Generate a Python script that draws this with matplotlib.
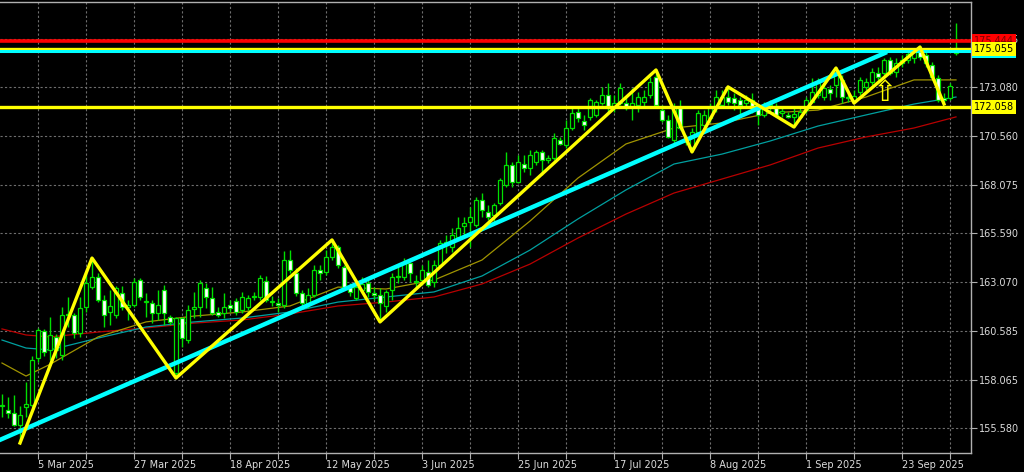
import matplotlib
matplotlib.use("Agg")
import matplotlib.pyplot as plt
import matplotlib.transforms as mtransforms
import numpy as np

# daily candles, bar 0 = 25 Feb 2025 ... bar 159 = 6 Oct 2025
opens = [156.71, 156.51, 156.35, 155.74, 156.66, 156.76, 159.18, 160.56, 159.59, 160.26,
         159.33, 161.39, 161.39, 160.46, 161.80, 162.82, 163.34, 162.16, 161.54, 161.39,
         162.51, 161.80, 161.90, 163.18, 162.05, 162.00, 161.49, 162.67, 161.28, 158.41,
         161.23, 160.10, 161.69, 161.80, 162.77, 162.26, 161.54, 161.49, 161.90, 162.10,
         161.64, 161.80, 162.31, 162.31, 163.13, 162.05, 162.00, 161.90, 164.21, 163.54,
         162.51, 161.90, 162.41, 163.70, 163.59, 164.36, 164.88, 163.85, 162.82, 162.26,
         162.67, 163.03, 162.51, 162.41, 161.85, 162.67, 163.34, 163.34, 164.06, 163.13,
         163.18, 163.59, 163.08, 163.95, 165.13, 164.88, 165.39, 165.96, 166.16, 166.01,
         167.29, 166.68, 166.52, 167.14, 168.06, 169.09, 168.22, 169.14, 168.94, 169.24,
         169.76, 169.35, 169.45, 170.37, 170.12, 170.99, 171.81, 171.35, 171.55, 171.66,
         172.27, 172.69, 172.07, 172.27, 172.27, 172.07, 172.17, 172.33, 172.69, 173.61,
         171.91, 171.40, 170.37, 172.02, 170.53, 170.01, 170.78, 171.14, 171.50, 172.07,
         172.17, 172.58, 172.53, 172.43, 172.27, 172.43, 172.02, 171.66, 172.17, 172.12,
         171.76, 171.66, 171.55, 171.55, 171.91, 172.33, 172.69, 172.58, 172.99, 173.20,
         173.46, 172.58, 172.43, 172.84, 173.10, 173.35, 173.82, 173.82, 174.48, 173.87,
         174.33, 174.48, 174.58, 175.00, 174.74, 174.23, 173.56, 172.53, 172.53, 174.84]
highs = [157.33, 157.18, 157.28, 156.71, 157.94, 159.28, 160.72, 160.67, 161.28, 160.41,
         161.80, 162.31, 161.49, 162.31, 163.54, 164.31, 163.54, 162.41, 162.67, 162.87,
         162.87, 162.16, 163.29, 163.29, 162.51, 162.16, 162.67, 162.92, 161.39, 161.28,
         161.28, 161.90, 162.57, 163.18, 163.03, 162.82, 161.80, 162.51, 162.16, 162.26,
         162.57, 162.41, 162.57, 163.44, 163.39, 162.36, 162.26, 164.67, 164.72, 163.80,
         162.67, 162.77, 163.95, 163.95, 164.72, 165.24, 164.98, 163.95, 163.03, 163.18,
         163.34, 163.18, 162.82, 162.77, 162.67, 163.54, 163.95, 164.31, 164.11, 163.44,
         163.95, 164.21, 164.21, 165.24, 165.49, 165.85, 166.42, 166.42, 166.93, 167.45,
         167.65, 167.04, 167.14, 168.42, 169.76, 169.24, 169.60, 169.60, 169.86, 169.86,
         169.86, 169.60, 170.73, 170.53, 171.40, 172.07, 172.07, 171.66, 172.53, 172.43,
         173.10, 173.30, 172.69, 173.30, 172.58, 173.04, 172.84, 172.94, 173.61, 173.97,
         172.17, 171.66, 172.27, 172.43, 170.63, 170.99, 171.91, 171.91, 172.27, 172.94,
         172.94, 173.10, 172.79, 172.58, 172.69, 172.79, 172.17, 172.33, 172.43, 172.27,
         172.07, 171.81, 172.02, 172.02, 172.58, 173.56, 173.56, 173.30, 173.20, 174.07,
         173.71, 172.84, 172.94, 173.61, 173.56, 174.07, 174.12, 174.58, 174.64, 174.58,
         174.74, 175.00, 175.10, 175.15, 175.00, 174.38, 173.71, 172.79, 173.30, 176.38]
lows = [156.15, 156.10, 155.69, 154.81, 156.15, 156.66, 158.97, 159.28, 159.07, 159.18,
        159.07, 160.77, 160.20, 160.26, 161.54, 162.72, 162.05, 160.77, 160.87, 161.23,
        161.64, 161.13, 161.80, 162.16, 161.28, 160.98, 161.13, 160.87, 160.87, 158.15,
        159.74, 159.95, 161.23, 161.28, 161.74, 161.39, 161.28, 161.23, 161.54, 161.39,
        161.49, 161.64, 162.16, 162.16, 162.05, 161.85, 161.54, 161.74, 163.54, 162.36,
        161.80, 161.74, 162.31, 163.18, 163.44, 164.21, 163.80, 162.67, 162.36, 162.16,
        162.51, 162.31, 162.16, 161.03, 161.54, 162.16, 163.03, 163.18, 163.08, 162.82,
        162.92, 162.82, 162.82, 163.85, 164.57, 164.62, 165.24, 165.39, 164.88, 165.91,
        166.42, 166.26, 166.11, 167.04, 167.96, 167.96, 168.17, 168.73, 168.58, 169.09,
        168.58, 169.19, 169.35, 170.12, 169.96, 170.89, 171.30, 170.89, 171.40, 171.55,
        172.17, 171.81, 171.81, 172.17, 171.91, 171.40, 171.81, 172.02, 172.53, 172.07,
        171.30, 170.48, 170.22, 170.89, 170.12, 169.76, 170.53, 170.78, 171.30, 171.81,
        172.07, 172.17, 171.91, 171.55, 172.07, 171.76, 171.14, 171.55, 171.81, 171.55,
        171.55, 171.50, 171.04, 171.50, 171.76, 172.27, 172.53, 172.43, 172.43, 172.58,
        172.27, 172.33, 172.27, 172.69, 172.94, 173.20, 173.46, 173.71, 173.71, 173.61,
        174.12, 174.33, 174.33, 174.48, 174.12, 173.46, 172.33, 172.22, 172.43, 174.74]
closes = [156.76, 156.35, 155.74, 156.25, 156.81, 159.07, 160.62, 159.48, 160.36, 159.59,
          161.39, 161.44, 160.46, 161.74, 163.03, 163.34, 162.16, 161.39, 161.85, 162.77,
          161.80, 161.90, 163.08, 162.31, 162.10, 161.49, 161.90, 161.49, 161.03, 161.23,
          160.20, 161.64, 161.80, 163.03, 162.31, 161.49, 161.39, 161.80, 161.74, 161.54,
          162.31, 162.26, 162.36, 163.29, 162.16, 162.10, 161.90, 164.21, 163.70, 162.51,
          162.00, 162.41, 163.70, 163.54, 164.36, 164.88, 163.95, 162.82, 162.57, 162.82,
          162.98, 162.57, 162.41, 162.00, 162.57, 163.34, 163.39, 164.06, 163.54, 163.08,
          163.70, 162.92, 163.95, 165.08, 164.98, 165.49, 165.85, 166.11, 166.42, 167.29,
          166.78, 166.42, 167.04, 168.32, 169.09, 168.22, 169.24, 168.94, 169.60, 169.76,
          169.35, 169.45, 170.48, 170.17, 170.99, 171.76, 171.50, 171.14, 172.43, 172.33,
          172.69, 172.07, 172.27, 173.04, 172.02, 172.27, 172.58, 172.58, 173.35, 172.17,
          171.40, 170.53, 172.02, 170.99, 170.27, 170.78, 171.76, 171.66, 172.02, 172.58,
          172.58, 172.33, 172.27, 172.17, 172.43, 172.02, 171.66, 172.17, 172.22, 171.66,
          171.86, 171.55, 171.71, 171.81, 172.43, 172.84, 173.30, 173.04, 172.79, 173.71,
          172.58, 172.53, 172.63, 173.46, 173.35, 173.87, 173.61, 174.48, 173.82, 174.33,
          174.48, 174.79, 174.89, 174.64, 174.33, 173.61, 172.43, 172.43, 173.15, 175.10]

date_labels = ["5 Mar 2025", "27 Mar 2025", "18 Apr 2025", "12 May 2025", "3 Jun 2025",
               "25 Jun 2025", "17 Jul 2025", "8 Aug 2025", "1 Sep 2025", "23 Sep 2025"]
first_label_bar = 6
price_ticks = [155.580, 158.065, 160.585, 163.070, 165.590, 168.075, 170.560, 173.080, 175.565]

# moving averages read at a few bars
ma_bars = [0, 4, 8, 16, 24, 32, 40, 48, 56, 64, 72, 80, 88, 96, 104, 112, 120, 128, 136, 144, 152, 159]
ma_slow = [160.67, 160.36, 160.26, 160.51, 160.72, 160.97, 161.13, 161.44, 161.85, 162.05, 162.31,
           162.98, 164.00, 165.34, 166.57, 167.65, 168.37, 169.09, 169.96, 170.53, 170.99, 171.56]
ma_mid = [160.10, 159.69, 159.59, 160.20, 160.77, 161.03, 161.23, 161.54, 162.05, 162.31, 162.57,
          163.39, 164.72, 166.32, 167.81, 169.14, 169.65, 170.32, 171.09, 171.66, 172.22, 172.58]
ma_fast = [158.92, 158.25, 158.85, 160.26, 161.03, 161.33, 161.54, 161.85, 162.82, 162.72, 163.18,
           164.21, 166.21, 168.42, 170.17, 170.99, 171.25, 171.76, 171.91, 172.58, 173.46, 173.46]

# zigzag pivots (first one is a low, then alternating)
zigzag_bars = [3, 15, 29, 55, 63, 109, 115, 121, 132, 139, 142, 153, 157]

trend_bars = [-0.5, 147.5]
trend_prices = [154.95, 174.89]

level_red = 175.444
level_yellow_top = 175.055
level_cyan = 174.930
level_yellow_low = 172.058
arrow_bar = 147
arrow_price = 172.08

BG = "black"
FG = "#dcdcdc"
GRID = "#6e6e6e"
CANDLE = "#00e000"

fig = plt.figure(figsize=(10.24, 4.72), dpi=100, facecolor=BG)
ax = fig.add_axes([0, 19 / 472, 971 / 1024, 451 / 472], facecolor=BG)

n = len(closes)
bars = np.arange(n)
o = np.array(opens)
c = np.array(closes)

# grid
for b in range(first_label_bar, n + 2, 8):
    ax.axvline(b, color=GRID, lw=0.8, ls=(0, (2, 2)), zorder=0)
for p in price_ticks:
    ax.axhline(p, color=GRID, lw=0.8, ls=(0, (2, 2)), zorder=0)

# moving averages
ax.plot(ma_bars, ma_slow, color="#b80000", lw=0.9, zorder=2)
ax.plot(ma_bars, ma_mid, color="#00a0a0", lw=0.9, zorder=2)
ax.plot(ma_bars, ma_fast, color="#a09400", lw=0.9, zorder=2)

# candles
ax.vlines(bars, lows, highs, color=CANDLE, lw=1, zorder=3)
up = c >= o
body_lo = np.minimum(o, c)
body_h = np.maximum(np.abs(c - o), 0.02)
ax.bar(bars[up], body_h[up], bottom=body_lo[up], width=0.62, color="black",
       edgecolor=CANDLE, linewidth=0.9, zorder=4)
ax.bar(bars[~up], body_h[~up], bottom=body_lo[~up], width=0.62, color="white",
       edgecolor=CANDLE, linewidth=0.9, zorder=4)

# horizontal levels
ax.axhline(level_red, color="#ff0000", lw=2.6, zorder=5)
ax.axhline(level_yellow_top, color="#ffff00", lw=2.4, zorder=5)
ax.axhline(level_cyan, color="#00ffff", lw=2.2, zorder=5)
ax.axhline(level_yellow_low, color="#ffff00", lw=2.4, zorder=5)

# trend line and zigzag
ax.plot(trend_bars, trend_prices, color="#00ffff", lw=3.2, solid_capstyle="butt", zorder=6)
zz_prices = [lows[b] if i % 2 == 0 else highs[b] for i, b in enumerate(zigzag_bars)]
ax.plot(zigzag_bars, zz_prices, color="#ffff00", lw=2.4, zorder=7)

ax.text(arrow_bar, arrow_price, "\u21e7", color="#ffff00", fontsize=21,
        ha="center", va="bottom", zorder=8)

# axes look
ax.set_xlim(-1 / 3, (971 - 2) / 6)
ax.set_ylim(154.298, 177.461)
ax.spines["left"].set_visible(False)
for side in ["right", "bottom", "top"]:
    ax.spines[side].set_color("#b0b0b0")
    ax.spines[side].set_linewidth(1)

ax.yaxis.tick_right()
ax.set_yticks(price_ticks)
ax.set_yticklabels([f"{p:.3f}" for p in price_ticks])
ax.tick_params(axis="y", colors="#b0b0b0", labelcolor=FG, labelsize=7, length=4, pad=2)

grid_bars = list(range(first_label_bar, n + 2, 8))
xt_labels = []
for i, b in enumerate(grid_bars):
    xt_labels.append(date_labels[i // 2] if i % 2 == 0 and i // 2 < len(date_labels) else "")
ax.set_xticks(grid_bars)
ax.set_xticklabels(xt_labels)
for lbl in ax.get_xticklabels():
    lbl.set_ha("left")
ax.tick_params(axis="x", colors="#b0b0b0", labelcolor=FG, labelsize=7, length=4, pad=1)

# price labels on the right scale
tr = mtransforms.blended_transform_factory(ax.transAxes, ax.transData)
def price_box(price, fc, tc, z):
    ax.text(1.003, price, f"{price:.3f}", transform=tr, ha="left", va="center",
            fontsize=7, color=tc, zorder=z, clip_on=False,
            bbox=dict(boxstyle="square,pad=0.22", fc=fc, ec="none"))

price_box(level_red, "#ff0000", "#7a0000", 20)
price_box(level_cyan, "#00ffff", "black", 21)
price_box(level_yellow_top, "#ffff00", "black", 22)
price_box(level_yellow_low, "#ffff00", "black", 22)

fig.savefig("out.png", dpi=100, facecolor=BG)
